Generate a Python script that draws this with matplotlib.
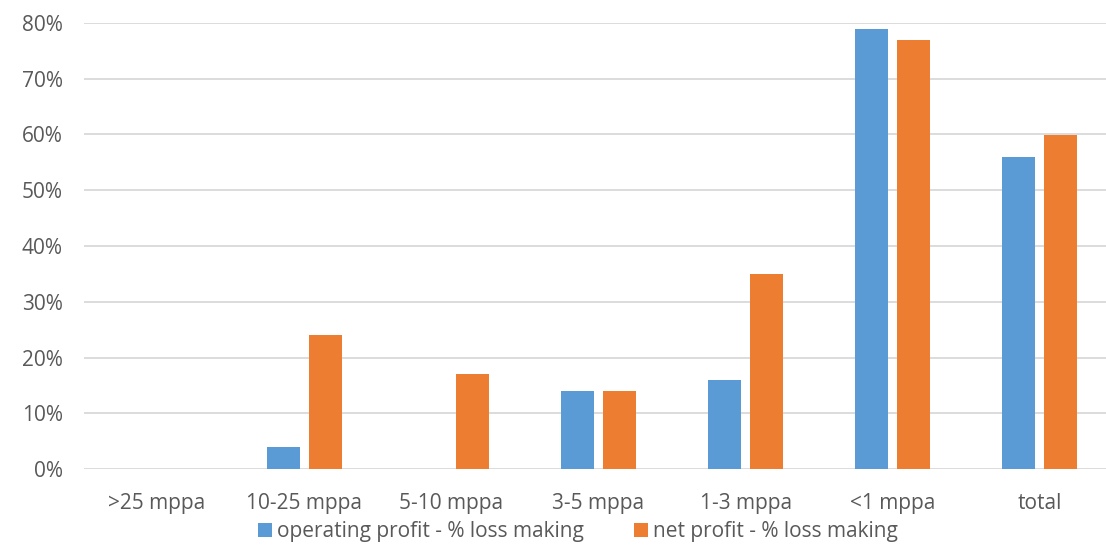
import matplotlib
matplotlib.use("Agg")
import matplotlib.pyplot as plt
import numpy as np
from matplotlib.ticker import PercentFormatter

# ── data ──────────────────────────────────────────────
categories = [">25 mppa", "10-25 mppa", "5-10 mppa", "3-5 mppa",
              "1-3 mppa", "<1 mppa", "total"]
operating  = [0.00, 0.04, 0.00, 0.14, 0.16, 0.79, 0.56]
net        = [0.00, 0.24, 0.17, 0.14, 0.35, 0.77, 0.60]
labels     = ["operating profit - % loss making", "net profit - % loss making"]

BLUE   = "#5B9BD5"
ORANGE = "#ED7D31"
GREY   = "#595959"

plt.rcParams["font.family"] = ["Open Sans", "DejaVu Sans"]

W, H = 1106, 556
fig = plt.figure(figsize=(W / 100, H / 100), dpi=100)
ax = fig.add_axes([83.5 / W, 87 / H, 1030 / W, 446 / H])

x = np.arange(len(categories))
bw, off = 0.224, 0.143
b1 = ax.bar(x - off, operating, bw, color=BLUE, label=labels[0], zorder=3)
b2 = ax.bar(x + off, net, bw, color=ORANGE, label=labels[1], zorder=3)

ax.set_xlim(-0.5, len(categories) - 0.5)
ax.set_ylim(0, 0.8)
ax.set_yticks(np.arange(0, 0.81, 0.1))
ax.yaxis.set_major_formatter(PercentFormatter(1.0, decimals=0))
ax.set_xticks(x)
ax.set_xticklabels(categories)

ax.grid(axis="y", color="#D9D9D9", linewidth=1.3, zorder=0)
for s in ax.spines.values():
    s.set_visible(False)
ax.tick_params(length=0, colors=GREY, labelsize=15)
ax.tick_params(axis="y", pad=15)
ax.tick_params(axis="x", pad=17)

fig.legend(handles=[b1, b2], loc="center", bbox_to_anchor=(578 / W, 1 - 532 / H),
           ncol=2, frameon=False, fontsize=15, labelcolor=GREY,
           handlelength=0.65, handleheight=0.65, handletextpad=0.25,
           columnspacing=2.4, borderpad=0)

fig.savefig("out.png", dpi=100)
